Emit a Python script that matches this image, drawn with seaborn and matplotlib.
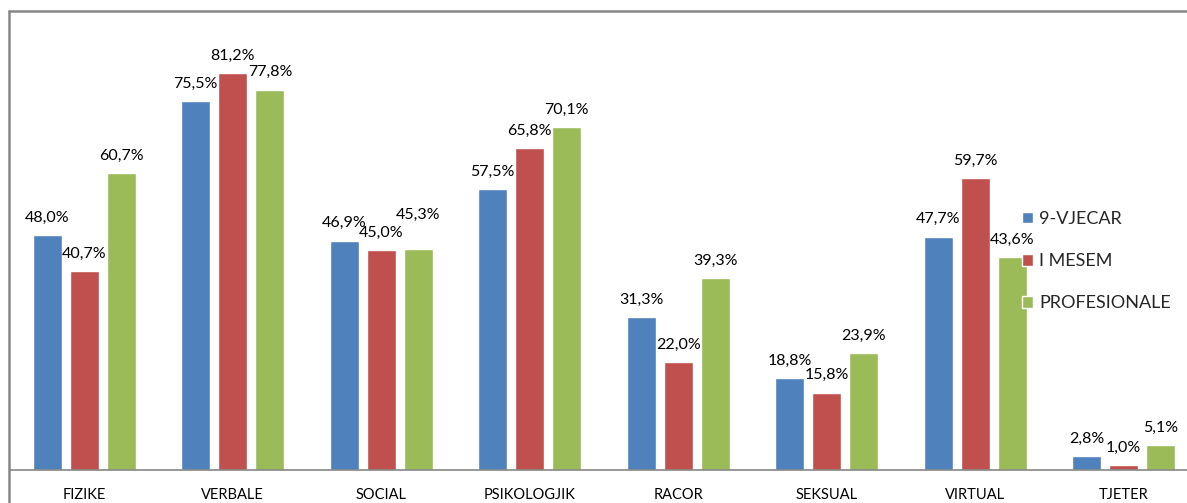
import matplotlib
matplotlib.use("Agg")
import matplotlib.pyplot as plt
from matplotlib.lines import Line2D
import seaborn as sns
import pandas as pd

categories = ["FIZIKE", "VERBALE", "SOCIAL", "PSIKOLOGJIK", "RACOR", "SEKSUAL", "VIRTUAL", "TJETER"]
series_names = ["9-VJECAR", "I MESEM", "PROFESIONALE"]
vjecar9 = [48.0, 75.5, 46.9, 57.5, 31.3, 18.8, 47.7, 2.8]
mesem = [40.7, 81.2, 45.0, 65.8, 22.0, 15.8, 59.7, 1.0]
profesionale = [60.7, 77.8, 45.3, 70.1, 39.3, 23.9, 43.6, 5.1]
colors = ["#4F81BD", "#C0504D", "#9BBB59"]

rows = []
for name, vals in zip(series_names, [vjecar9, mesem, profesionale]):
    for c, v in zip(categories, vals):
        rows.append({"cat": c, "val": v, "series": name})
df = pd.DataFrame(rows)

sns.set_theme(style="white")
plt.rcParams["font.family"] = ["Lato", "DejaVu Sans"]

W, H = 1187, 503
fig = plt.figure(figsize=(W / 100, H / 100), dpi=100)
left_px, right_px, top_px, base_px = 10, 1198, 10, 470
ax = fig.add_axes([left_px / W, (H - base_px) / H, (right_px - left_px) / W, (base_px - top_px) / H])

sns.barplot(data=df, x="cat", y="val", hue="series", palette=colors, width=0.75, gap=0.22,
            saturation=1, ax=ax, errorbar=None, order=categories, hue_order=series_names)

px_per_unit = (base_px - 73) / 81.2
ax.set_ylim(0, (base_px - top_px) / px_per_unit)
ax.set_xlim(-0.5, len(categories) - 0.5)

for sp in ["left", "right", "top"]:
    ax.spines[sp].set_visible(False)
ax.spines["bottom"].set_color("#868686")
ax.spines["bottom"].set_linewidth(1.2)
ax.set_yticks([])
ax.set_xlabel("")
ax.set_ylabel("")
ax.tick_params(axis="x", length=0, pad=13, labelsize=10.5, colors="#000000")

# label nudge (points) for the one manually raised label: (series index, category index): (dx, dy)
nudges = {(2, 2): (0, 12)}

for si, cont in enumerate(ax.containers):
    vals = [vjecar9, mesem, profesionale][si]
    for ci, bar in enumerate(cont.patches):
        dx, dy = nudges.get((si, ci), (0, 0))
        label = f"{vals[ci]:.1f}%".replace(".", ",")
        ax.annotate(label, xy=(bar.get_x() + bar.get_width() / 2, bar.get_height()),
                    xytext=(dx, 7.5 + dy), textcoords="offset points", ha="center", va="bottom",
                    fontsize=11.5, color="#000000")

leg = ax.legend(loc="upper left", bbox_to_anchor=(1022 / W, 1 - 211 / H), bbox_transform=fig.transFigure,
                frameon=False, handlelength=0.6, handleheight=0.6, handletextpad=0.35,
                labelspacing=1.45, fontsize=13, borderaxespad=0, borderpad=0)

# outer chart border (cropped)
bc = "#868686"
fig.add_artist(Line2D([9.5 / W, 9.5 / W], [0, 1 - 10.5 / H], transform=fig.transFigure, color=bc, lw=1.8))
fig.add_artist(Line2D([9.5 / W, 1.0], [1 - 10.5 / H, 1 - 10.5 / H], transform=fig.transFigure, color=bc, lw=1.8))

fig.savefig("out.png", dpi=100)
